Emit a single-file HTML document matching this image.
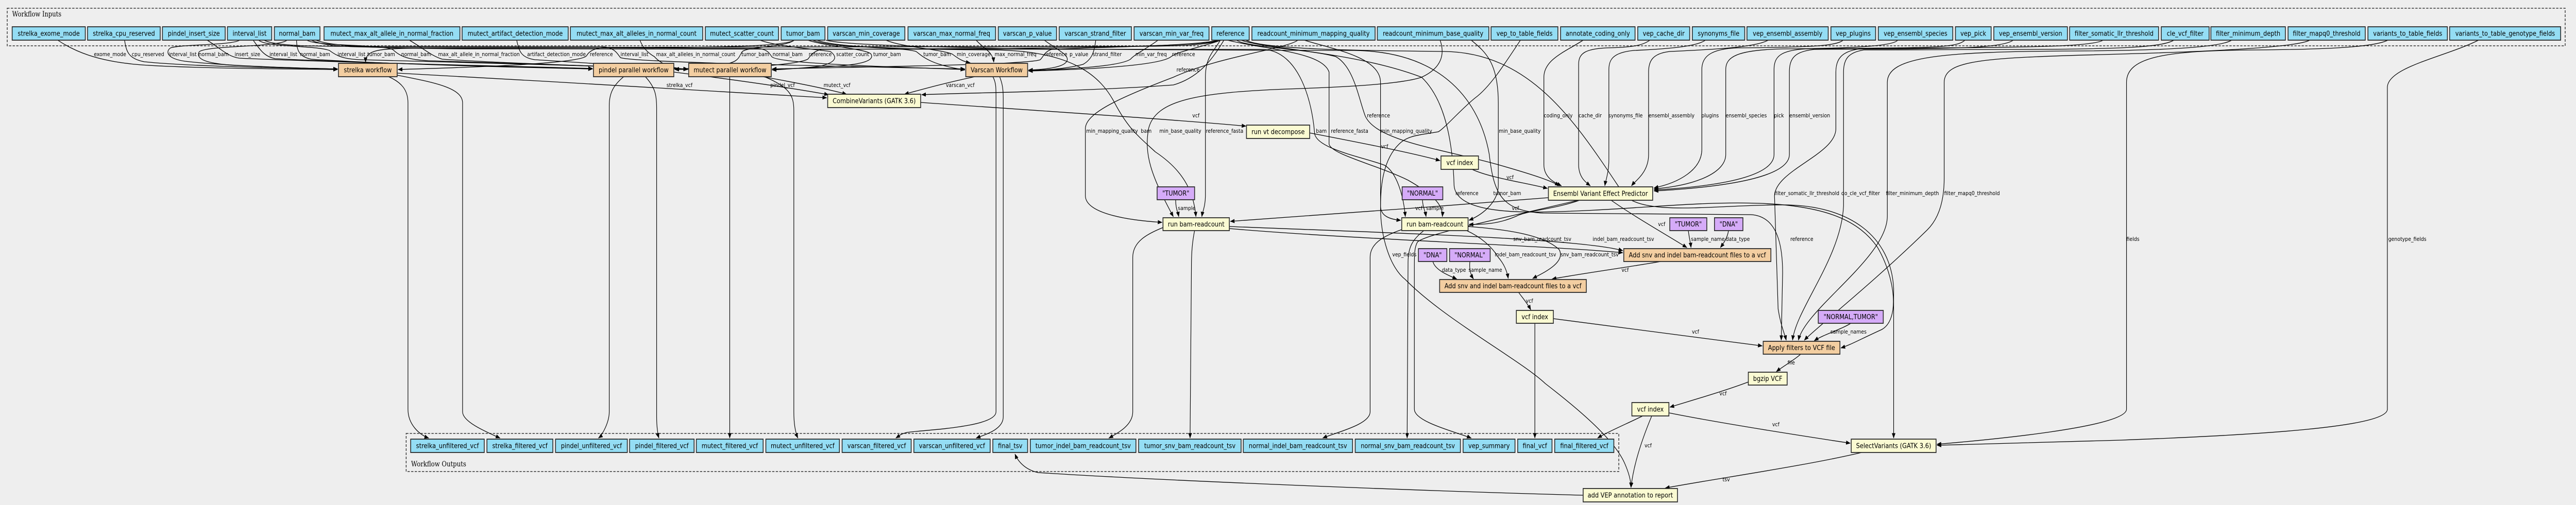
<!DOCTYPE html>
<html><head><meta charset="utf-8"><style>
html,body{margin:0;padding:0;background:#eeeeee;overflow:hidden;width:100%;height:981px;}
svg{display:block;width:100%;height:981px;}
.i{fill:#94ddf4;stroke:#2a2a2a;stroke-width:1.8}
.o{fill:#f3cea1;stroke:#2a2a2a;stroke-width:1.8}
.y{fill:#fafad2;stroke:#2a2a2a;stroke-width:1.8}
.p{fill:#d5abf8;stroke:#2a2a2a;stroke-width:1.8}
.t{font-family:"DejaVu Sans","Liberation Sans",sans-serif;font-size:13px;fill:#000;text-anchor:middle}
.l{font-family:"DejaVu Sans","Liberation Sans",sans-serif;font-size:10.7px;fill:#000}
.c{font-family:"DejaVu Serif","Liberation Serif",serif;font-size:13.5px;fill:#000}
.e{fill:none;stroke:#000;stroke-width:1.3;marker-end:url(#a)}
.box{fill:none;stroke:#333;stroke-width:1.6;stroke-dasharray:5,3}
</style></head><body>
<svg viewBox="0 0 5708 981" preserveAspectRatio="none" xmlns="http://www.w3.org/2000/svg">
<defs><marker id="a" markerWidth="10" markerHeight="8" refX="9.5" refY="4" orient="auto" markerUnits="userSpaceOnUse"><path d="M0,0 L10,4 L0,8 z" fill="#000"/></marker></defs>
<rect x="0" y="0" width="5708" height="981" fill="#eeeeee"/>

<!-- clusters -->
<rect class="box" x="16" y="16" width="5668" height="73"/>
<text class="c" x="27" y="32" textLength="109" lengthAdjust="spacingAndGlyphs">Workflow Inputs</text>
<rect class="box" x="900" y="842" width="2687" height="74"/>
<text class="c" x="911" y="906" textLength="122" lengthAdjust="spacingAndGlyphs">Workflow Outputs</text>

<!-- EDGES -->
<g>
<path class="e" d="M128,78 C165,100 215,118 300,125 S600,134 748,135"/>
<path class="e" d="M276,78 C280,100 284,114 320,120 C420,129 650,133 748,134"/>
<path class="e" d="M531,78 C515,88 400,86 378,93 C366,100 370,114 410,119 C500,128 650,132 748,134"/>
<path class="e" d="M636,78 C620,92 452,88 441,101 C432,118 470,124 520,127 C600,131 700,133 748,134"/>
<path class="e" d="M459,78 C490,95 505,110 530,113 C700,120 1100,128 1313,133"/>
<path class="e" d="M561,78 C575,95 585,110 610,114 C800,122 1100,129 1313,134"/>
<path class="e" d="M657,78 C658,95 660,110 690,115 C850,124 1100,130 1313,134"/>
<path class="e" d="M573,78 C590,92 700,88 730,98 C745,108 760,115 800,116 C1000,120 1300,128 1524,134"/>
<path class="e" d="M680,78 C700,90 840,86 870,96 C885,108 900,116 950,118 C1150,122 1350,130 1524,134"/>
<path class="e" d="M907,78 C940,95 955,108 980,115 C1100,122 1350,130 1524,134"/>
<path class="e" d="M1145,78 C1150,100 1155,112 1185,116 C1300,122 1420,130 1524,134"/>
<path class="e" d="M1418,78 C1425,95 1440,105 1450,110 C1465,125 1490,133 1524,135"/>
<path class="e" d="M1760,78 C1740,90 1600,92 1400,93 L900,94 C830,95 810,100 810,121"/>
<path class="e" d="M2700,78 C2680,88 2600,90 2500,90 L1340,92 C1315,94 1305,100 1300,108 C1290,125 1000,132 882,135"/>
<path class="e" d="M585,78 C610,90 700,90 800,90 L1340,91 C1365,95 1368,105 1375,112 C1400,120 1700,126 2138,134"/>
<path class="e" d="M1760,78 C1740,92 1660,90 1645,100 C1635,112 1640,120 1600,126 C1550,132 1520,134 1495,134"/>
<path class="e" d="M690,78 C720,92 800,92 900,92 L1680,94 C1700,96 1705,103 1710,110 C1720,122 1900,128 2138,135"/>
<path class="e" d="M2700,78 C2680,90 2400,92 2200,94 L1820,96 C1800,100 1795,110 1790,115 C1760,128 1600,134 1495,135"/>
<path class="e" d="M1684,78 C1720,90 1800,95 1840,100 C1855,110 1855,120 1820,128 C1780,133 1740,134 1711,135"/>
<path class="e" d="M1790,78 C1830,90 1920,95 1930,105 C1940,120 1900,128 1800,131 C1760,133 1730,135 1711,136"/>
<path class="e" d="M1800,78 C1850,95 1990,90 2030,100 C2045,110 2060,125 2138,136"/>
<path class="e" d="M1963,78 C2000,92 2080,95 2110,105 C2125,115 2135,120 2150,122"/>
<path class="e" d="M2163,78 C2180,95 2200,100 2202,121"/>
<path class="e" d="M2700,78 C2650,90 2400,92 2330,96 C2315,100 2312,110 2305,116 C2280,126 1900,130 1711,134"/>
<path class="e" d="M2314,78 C2340,95 2365,105 2365,115 C2365,130 2320,135 2279,136"/>
<path class="e" d="M2428,78 C2425,100 2420,115 2400,125 C2360,134 2320,136 2279,137"/>
<path class="e" d="M2566,78 C2540,95 2515,105 2505,115 C2480,130 2350,135 2279,137"/>
<path class="e" d="M2706,78 C2660,92 2610,100 2595,110 C2570,128 2400,135 2279,138"/>
<path class="e" d="M2712,78 C2690,110 2660,150 2600,165 C2400,178 2150,180 2042,184"/>
<path class="e" d="M880,142 C1200,158 1600,176 1832,190"/>
<path class="e" d="M1493,140 C1600,152 1750,170 1836,184"/>
<path class="e" d="M1690,149 C1760,160 1830,172 1876,183"/>
<path class="e" d="M2160,149 C2100,160 2050,172 2004,183"/>
<path class="e" d="M2040,199 C2300,215 2600,232 2761,245"/>
<path class="e" d="M2901,258 C3000,275 3120,295 3191,312"/>
<path class="e" d="M3262,329 C3300,345 3380,355 3429,366"/>
<!-- workflow outputs -->
<path class="e" d="M861,149 C890,160 904,175 904,200 L904,795 C904,825 930,845 950,851"/>
<path class="e" d="M880,146 C960,160 1025,170 1025,200 L1025,800 C1025,820 1080,840 1108,851"/>
<path class="e" d="M1382,149 C1360,165 1350,180 1350,205 L1350,800 C1350,820 1335,845 1326,851"/>
<path class="e" d="M1430,149 C1452,170 1455,185 1455,210 L1455,810 C1455,830 1458,845 1460,851"/>
<path class="e" d="M1617,149 L1617,851"/>
<path class="e" d="M1694,149 C1750,170 1759,185 1759,215 L1759,800 C1759,830 1765,845 1768,851"/>
<path class="e" d="M2200,149 C2207,160 2207,170 2207,190 L2207,800 C2207,830 2050,835 2010,840 C1995,843 1990,848 1985,851"/>
<path class="e" d="M2215,149 C2220,160 2223,170 2223,190 L2223,810 C2223,835 2180,845 2163,851"/>
<!-- readcount 1 -->
<path class="e" d="M2876,78 C2850,95 2700,110 2600,150 C2480,190 2405,220 2405,250 L2405,380 C2405,415 2500,428 2575,432"/>
<path class="e" d="M1810,78 C1850,92 2000,96 2200,97 C2380,98 2440,150 2470,200 C2500,250 2523,265 2560,295 C2620,330 2645,370 2650,421"/>
<path class="e" d="M3191,78 C3200,100 3200,130 3150,150 C3100,165 2950,170 2850,173 C2650,180 2560,195 2545,250 C2535,300 2550,340 2600,421"/>
<path class="e" d="M2704,78 C2690,100 2671,110 2671,150 L2671,380 C2671,400 2665,410 2663,421"/>
<path class="e" d="M2605,388 C2605,405 2610,412 2612,421"/>
<path class="e" d="M3431,384 C3200,400 2900,420 2726,430"/>
<path class="e" d="M2577,442 C2540,455 2510,470 2510,500 L2510,800 C2510,825 2480,840 2457,851"/>
<path class="e" d="M2647,448 C2642,470 2640,490 2640,520 L2637,851"/>
<path class="e" d="M2724,440 C3000,450 3500,462 3596,487"/>
<path class="e" d="M2724,444 C3000,465 3450,478 3596,491"/>
<!-- readcount 2 -->
<path class="e" d="M700,78 C740,93 900,95 1100,95 L2800,96 C2880,100 2908,200 2913,260 C2920,290 3020,305 3068,321 C3095,335 3110,380 3114,421"/>
<path class="e" d="M2720,78 C2800,96 2930,100 2945,140 L2945,280 C2950,300 3050,320 3120,350 C3180,380 3198,400 3196,421"/>
<path class="e" d="M2890,78 C2950,95 3059,110 3059,160 L3059,400 C3059,420 3080,426 3104,428"/>
<path class="e" d="M3260,78 C3290,100 3320,120 3320,200 L3320,360 C3320,390 3290,415 3255,428"/>
<path class="e" d="M3152,388 C3152,400 3158,410 3160,421"/>
<path class="e" d="M3500,389 C3450,405 3380,410 3360,420 C3320,435 3290,436 3255,436"/>
<path class="e" d="M3106,446 C3060,460 3036,475 3036,500 L3036,800 C3036,825 2960,840 2931,851"/>
<path class="e" d="M3155,448 C3130,465 3120,480 3120,510 L3118,851"/>
<path class="e" d="M3250,448 C3280,460 3305,478 3320,500 C3335,515 3340,530 3342,541"/>
<path class="e" d="M3253,440 C3330,445 3420,455 3455,485 C3470,510 3420,530 3396,541"/>
<!-- VEP -->
<path class="e" d="M3497,389 C3300,430 3160,455 3141,470 C3134,480 3134,495 3134,520 L3134,795 C3134,820 3230,840 3260,851"/>
<path class="e" d="M3570,389 C3620,420 3700,460 3738,481"/>
<path class="e" d="M2740,78 C2760,92 2900,95 2960,110 C3000,130 3010,190 3025,225 C3050,275 3200,290 3320,320 C3400,340 3440,352 3455,361"/>
<path class="e" d="M3508,78 C3470,100 3421,115 3421,150 L3421,320 C3421,345 3445,355 3460,361"/>
<path class="e" d="M3656,78 C3640,88 3620,92 3560,93 C3510,95 3498,105 3498,125 L3498,320 C3498,345 3515,355 3524,361"/>
<path class="e" d="M3779,78 C3760,90 3700,95 3620,98 C3575,102 3565,115 3565,135 L3565,310 C3565,335 3558,350 3556,361"/>
<path class="e" d="M3918,78 C3890,92 3800,96 3700,100 C3660,104 3653,120 3653,140 L3653,300 C3653,335 3625,350 3615,361"/>
<path class="e" d="M4084,78 C4070,90 4000,92 3850,93 C3790,95 3771,110 3771,135 L3771,290 C3771,330 3720,355 3665,365"/>
<path class="e" d="M4205,78 C4195,90 4100,94 3950,95 C3850,97 3824,110 3824,135 L3824,300 C3824,335 3760,360 3665,367"/>
<path class="e" d="M4354,78 C4340,90 4300,92 4200,93 L4000,95 C3945,98 3931,110 3931,135 L3931,300 C3931,335 3850,360 3665,369"/>
<path class="e" d="M4461,78 C4440,92 4350,94 4200,95 L4020,96 C3978,100 3965,112 3965,140 L3965,300 C3965,340 3850,362 3665,371"/>
<!-- add snv -->
<path class="e" d="M3741,448 C3743,462 3746,472 3747,481"/>
<path class="e" d="M3830,448 C3828,462 3818,474 3812,481"/>
<path class="e" d="M3680,508 C3600,520 3500,532 3439,542"/>
<path class="e" d="M3175,508 C3180,525 3210,535 3228,542"/>
<path class="e" d="M3257,508 C3255,525 3260,535 3265,542"/>
<path class="e" d="M3365,568 C3375,580 3385,590 3392,602"/>
<path class="e" d="M3401,628 L3401,851"/>
<path class="e" d="M3442,619 L3905,672"/>
<path class="e" d="M4101,628 C4080,640 4040,650 4020,662"/>
<path class="e" d="M3990,688 C3975,700 3950,712 3936,722"/>
<path class="e" d="M3874,742 C3820,760 3740,780 3700,791"/>
<path class="e" d="M3640,808 C3600,825 3560,840 3540,851"/>
<path class="e" d="M3698,802 C3800,820 3980,845 4100,861"/>
<path class="e" d="M3660,808 C3640,850 3620,900 3614,947"/>
<path class="e" d="M4125,879 C4000,905 3800,930 3690,948"/>
<path class="e" d="M3369,78 C3330,130 3300,170 3269,190 C3240,210 3200,250 3187,256 C3150,262 3120,262 3100,280 C3065,310 3059,360 3059,402 C3059,460 3080,520 3114,543 C3200,620 3370,700 3424,745 C3520,810 3580,860 3600,900 C3610,920 3614,935 3614,947"/>
<path class="e" d="M3508,962 C3200,955 2600,935 2300,918 C2270,912 2255,895 2249,882"/>
<!-- filters -->
<path class="e" d="M4660,78 C4640,90 4500,92 4300,93 L4120,95 C4080,100 4068,115 4068,140 L4068,250 C4068,300 3935,330 3932,380 L3940,600 C3945,630 3955,650 3958,661"/>
<path class="e" d="M4817,78 C4790,92 4700,95 4500,96 L4130,97 C4095,102 4085,115 4085,140 L4085,400 C4080,500 3980,600 3972,661"/>
<path class="e" d="M4945,78 C4920,92 4800,98 4600,99 C4300,100 4182,110 4182,160 L4182,420 C4182,500 4000,600 3985,661"/>
<path class="e" d="M5118,78 C5090,92 4900,100 4700,105 C4400,112 4308,115 4308,160 L4308,346 C4308,400 4290,430 4270,447 C4150,550 4020,640 3998,661"/>
<path class="e" d="M2750,78 C2800,95 3000,100 3150,150 C3210,200 3220,300 3222,360 C3225,400 3300,412 3400,412 C3600,410 3750,390 3900,395 C4050,400 4120,430 4160,480 C4200,540 4210,620 4170,640 C4120,660 4100,670 4079,676"/>
<path class="e" d="M1830,78 C1900,95 2500,97 3000,98 C3200,100 3280,200 3300,300 C3310,380 3330,410 3420,414 L3880,417 C3935,420 3950,470 3950,530 L3947,661"/>
<path class="e" d="M2760,78 C2800,96 3000,98 3200,100 C3400,102 3500,250 3600,380 C3650,420 3800,398 3950,398 C4100,398 4190,460 4196,560 L4196,851"/>
<path class="e" d="M5291,78 C5260,92 5150,96 5000,97 C4800,98 4712,110 4712,160 L4712,795 C4712,830 4400,855 4292,863"/>
<path class="e" d="M5492,78 C5420,110 5290,130 5290,170 L5290,795 C5290,830 5000,845 4700,855 C4500,861 4350,864 4292,865"/>
</g>

<!-- EDGE LABELS -->
<g class="l">
<text x="208" y="109">exome_mode</text>
<text x="292" y="109">cpu_reserved</text>
<text x="374" y="109">interval_list</text>
<text x="440" y="109">normal_bam</text>
<text x="520" y="109">insert_size</text>
<text x="597" y="109">interval_list</text>
<text x="665" y="109">normal_bam</text>
<text x="748" y="109">interval_list</text>
<text x="814" y="109">tumor_bam</text>
<text x="889" y="109">normal_bam</text>
<text x="971" y="109">max_alt_allele_in_normal_fraction</text>
<text x="1168" y="109">artifact_detection_mode</text>
<text x="1307" y="109">reference</text>
<text x="1375" y="109">interval_list</text>
<text x="1454" y="109">max_alt_alleles_in_normal_count</text>
<text x="1643" y="109">tumor_bam</text>
<text x="1712" y="109">normal_bam</text>
<text x="1792" y="109">reference</text>
<text x="1853" y="109">scatter_count</text>
<text x="1935" y="109">tumor_bam</text>
<text x="2046" y="109">tumor_bam</text>
<text x="2120" y="109">min_coverage</text>
<text x="2204" y="109">max_normal_freq</text>
<text x="2314" y="109">reference</text>
<text x="2370" y="109">p_value</text>
<text x="2421" y="109">strand_filter</text>
<text x="2516" y="109">min_var_freq</text>
<text x="2597" y="109">reference</text>
<text x="2607" y="139">reference</text>
<text x="1477" y="169">strelka_vcf</text>
<text x="1707" y="169">pindel_vcf</text>
<text x="1825" y="169">mutect_vcf</text>
<text x="2096" y="169">varscan_vcf</text>
<text x="2642" y="228">vcf</text>
<text x="3029" y="228">reference</text>
<text x="3421" y="228">coding_only</text>
<text x="3498" y="228">cache_dir</text>
<text x="3564" y="228">synonyms_file</text>
<text x="3653" y="228">ensembl_assembly</text>
<text x="3770" y="228">plugins</text>
<text x="3824" y="228">ensembl_species</text>
<text x="3931" y="228">pick</text>
<text x="3965" y="228">ensembl_version</text>
<text x="2407" y="258">min_mapping_quality</text>
<text x="2528" y="258">bam</text>
<text x="2569" y="258">min_base_quality</text>
<text x="2672" y="258">reference_fasta</text>
<text x="2916" y="258">bam</text>
<text x="2949" y="258">reference_fasta</text>
<text x="3059" y="258">min_mapping_quality</text>
<text x="3321" y="258">min_base_quality</text>
<text x="3060" y="288">vcf</text>
<text x="3338" y="348">vcf</text>
<text x="3225" y="379">reference</text>
<text x="3309" y="379">tumor_bam</text>
<text x="3932" y="379">filter_somatic_llr_threshold</text>
<text x="4080" y="379">do_cle_vcf_filter</text>
<text x="4179" y="379">filter_minimum_depth</text>
<text x="4308" y="379">filter_mapq0_threshold</text>
<text x="2610" y="408">sample</text>
<text x="3136" y="408">vcf</text>
<text x="3160" y="408">sample</text>
<text x="3350" y="408">vcf</text>
<text x="3674" y="439">vcf</text>
<text x="3353" y="468">snv_bam_readcount_tsv</text>
<text x="3529" y="468">indel_bam_readcount_tsv</text>
<text x="3747" y="468">sample_name</text>
<text x="3824" y="468">data_type</text>
<text x="3967" y="468">reference</text>
<text x="4712" y="468">fields</text>
<text x="5292" y="468">genotype_fields</text>
<text x="3085" y="498">vep_fields</text>
<text x="3312" y="498">indel_bam_readcount_tsv</text>
<text x="3458" y="498">snv_bam_readcount_tsv</text>
<text x="3195" y="528">data_type</text>
<text x="3254" y="528">sample_name</text>
<text x="3593" y="528">vcf</text>
<text x="3381" y="588">vcf</text>
<text x="3749" y="648">vcf</text>
<text x="4056" y="648">sample_names</text>
<text x="3961" y="708">file</text>
<text x="3810" y="768">vcf</text>
<text x="3927" y="828">vcf</text>
<text x="3644" y="869">vcf</text>
<text x="3817" y="935">tsv</text>
</g>

<!-- INPUT NODES -->
<g>
<rect class="i" x="27" y="52" width="162" height="26"/><text class="t" x="108" y="69.5">strelka_exome_mode</text>
<rect class="i" x="194" y="52" width="161" height="26"/><text class="t" x="274.5" y="69.5">strelka_cpu_reserved</text>
<rect class="i" x="360" y="52" width="139" height="26"/><text class="t" x="429.5" y="69.5">pindel_insert_size</text>
<rect class="i" x="504" y="52" width="98" height="26"/><text class="t" x="553" y="69.5">interval_list</text>
<rect class="i" x="608" y="52" width="101" height="26"/><text class="t" x="658.5" y="69.5">normal_bam</text>
<rect class="i" x="718" y="52" width="301" height="26"/><text class="t" x="868.5" y="69.5">mutect_max_alt_allele_in_normal_fraction</text>
<rect class="i" x="1024" y="52" width="235" height="26"/><text class="t" x="1141.5" y="69.5">mutect_artifact_detection_mode</text>
<rect class="i" x="1264" y="52" width="293" height="26"/><text class="t" x="1410.5" y="69.5">mutect_max_alt_alleles_in_normal_count</text>
<rect class="i" x="1563" y="52" width="162" height="26"/><text class="t" x="1644" y="69.5">mutect_scatter_count</text>
<rect class="i" x="1731" y="52" width="97" height="26"/><text class="t" x="1779.5" y="69.5">tumor_bam</text>
<rect class="i" x="1834" y="52" width="171" height="26"/><text class="t" x="1919.5" y="69.5">varscan_min_coverage</text>
<rect class="i" x="2012" y="52" width="194" height="26"/><text class="t" x="2109" y="69.5">varscan_max_normal_freq</text>
<rect class="i" x="2212" y="52" width="129" height="26"/><text class="t" x="2276.5" y="69.5">varscan_p_value</text>
<rect class="i" x="2347" y="52" width="160" height="26"/><text class="t" x="2427" y="69.5">varscan_strand_filter</text>
<rect class="i" x="2513" y="52" width="166" height="26"/><text class="t" x="2596" y="69.5">varscan_min_var_freq</text>
<rect class="i" x="2685" y="52" width="83" height="26"/><text class="t" x="2726.5" y="69.5">reference</text>
<rect class="i" x="2774" y="52" width="273" height="26"/><text class="t" x="2910.5" y="69.5">readcount_minimum_mapping_quality</text>
<rect class="i" x="3052" y="52" width="247" height="26"/><text class="t" x="3175.5" y="69.5">readcount_minimum_base_quality</text>
<rect class="i" x="3304" y="52" width="148" height="26"/><text class="t" x="3378" y="69.5">vep_to_table_fields</text>
<rect class="i" x="3458" y="52" width="165" height="26"/><text class="t" x="3540.5" y="69.5">annotate_coding_only</text>
<rect class="i" x="3629" y="52" width="115" height="26"/><text class="t" x="3686.5" y="69.5">vep_cache_dir</text>
<rect class="i" x="3750" y="52" width="116" height="26"/><text class="t" x="3808" y="69.5">synonyms_file</text>
<rect class="i" x="3871" y="52" width="180" height="26"/><text class="t" x="3961" y="69.5">vep_ensembl_assembly</text>
<rect class="i" x="4057" y="52" width="99" height="26"/><text class="t" x="4106.5" y="69.5">vep_plugins</text>
<rect class="i" x="4162" y="52" width="165" height="26"/><text class="t" x="4244.5" y="69.5">vep_ensembl_species</text>
<rect class="i" x="4333" y="52" width="79" height="26"/><text class="t" x="4372.5" y="69.5">vep_pick</text>
<rect class="i" x="4418" y="52" width="163" height="26"/><text class="t" x="4499.5" y="69.5">vep_ensembl_version</text>
<rect class="i" x="4586" y="52" width="197" height="26"/><text class="t" x="4684.5" y="69.5">filter_somatic_llr_threshold</text>
<rect class="i" x="4789" y="52" width="106" height="26"/><text class="t" x="4842" y="69.5">cle_vcf_filter</text>
<rect class="i" x="4899" y="52" width="165" height="26"/><text class="t" x="4981.5" y="69.5">filter_minimum_depth</text>
<rect class="i" x="5070" y="52" width="171" height="26"/><text class="t" x="5155.5" y="69.5">filter_mapq0_threshold</text>
<rect class="i" x="5247" y="52" width="176" height="26"/><text class="t" x="5335" y="69.5">variants_to_table_fields</text>
<rect class="i" x="5428" y="52" width="246" height="26"/><text class="t" x="5551" y="69.5">variants_to_table_genotype_fields</text>
</g>

<!-- STEP NODES -->
<g>
<rect class="o" x="750" y="123" width="130" height="26"/><text class="t" x="815" y="140.5">strelka workflow</text>
<rect class="o" x="1315" y="123" width="178" height="26"/><text class="t" x="1404" y="140.5">pindel parallel workflow</text>
<rect class="o" x="1526" y="123" width="183" height="26"/><text class="t" x="1617.5" y="140.5">mutect parallel workflow</text>
<rect class="o" x="2140" y="123" width="137" height="26"/><text class="t" x="2208.5" y="140.5">Varscan Workflow</text>
<rect class="y" x="1834" y="183" width="206" height="26"/><text class="t" x="1937" y="200.5">CombineVariants (GATK 3.6)</text>
<rect class="y" x="2762" y="243" width="140" height="26"/><text class="t" x="2832" y="260.5">run vt decompose</text>
<rect class="y" x="3193" y="303" width="83" height="26"/><text class="t" x="3234.5" y="320.5">vcf index</text>
<rect class="y" x="3431" y="363" width="231" height="26"/><text class="t" x="3546.5" y="380.5">Ensembl Variant Effect Predictor</text>
<rect class="p" x="2564" y="363" width="83" height="25"/><text class="t" x="2605.5" y="380">"TUMOR"</text>
<rect class="p" x="3107" y="363" width="90" height="25"/><text class="t" x="3152" y="380">"NORMAL"</text>
<rect class="y" x="2577" y="423" width="147" height="25"/><text class="t" x="2650.5" y="440">run bam-readcount</text>
<rect class="y" x="3106" y="423" width="147" height="25"/><text class="t" x="3179.5" y="440">run bam-readcount</text>
<rect class="p" x="3700" y="423" width="82" height="25"/><text class="t" x="3741" y="440">"TUMOR"</text>
<rect class="p" x="3799" y="423" width="63" height="25"/><text class="t" x="3830.5" y="440">"DNA"</text>
<rect class="o" x="3598" y="483" width="326" height="25"/><text class="t" x="3761" y="500">Add snv and indel bam-readcount files to a vcf</text>
<rect class="p" x="3143" y="483" width="63" height="25"/><text class="t" x="3174.5" y="500">"DNA"</text>
<rect class="p" x="3212" y="483" width="90" height="25"/><text class="t" x="3257" y="500">"NORMAL"</text>
<rect class="o" x="3190" y="543" width="325" height="25"/><text class="t" x="3352.5" y="560">Add snv and indel bam-readcount files to a vcf</text>
<rect class="y" x="3360" y="603" width="82" height="25"/><text class="t" x="3401" y="620">vcf index</text>
<rect class="p" x="4029" y="603" width="144" height="25"/><text class="t" x="4101" y="620">"NORMAL,TUMOR"</text>
<rect class="o" x="3907" y="663" width="170" height="25"/><text class="t" x="3992" y="680">Apply filters to VCF file</text>
<rect class="y" x="3874" y="723" width="86" height="25"/><text class="t" x="3917" y="740">bgzip VCF</text>
<rect class="y" x="3616" y="782" width="82" height="26"/><text class="t" x="3657" y="799.5">vcf index</text>
<rect class="y" x="4102" y="853" width="188" height="26"/><text class="t" x="4196" y="870.5">SelectVariants (GATK 3.6)</text>
<rect class="y" x="3508" y="949" width="209" height="26"/><text class="t" x="3612.5" y="966.5">add VEP annotation to report</text>
</g>

<!-- OUTPUT NODES -->
<g>
<rect class="i" x="910" y="853" width="163" height="26"/><text class="t" x="991.5" y="870.5">strelka_unfiltered_vcf</text>
<rect class="i" x="1079" y="853" width="146" height="26"/><text class="t" x="1152" y="870.5">strelka_filtered_vcf</text>
<rect class="i" x="1231" y="853" width="159" height="26"/><text class="t" x="1310.5" y="870.5">pindel_unfiltered_vcf</text>
<rect class="i" x="1395" y="853" width="143" height="26"/><text class="t" x="1466.5" y="870.5">pindel_filtered_vcf</text>
<rect class="i" x="1543" y="853" width="148" height="26"/><text class="t" x="1617" y="870.5">mutect_filtered_vcf</text>
<rect class="i" x="1697" y="853" width="163" height="26"/><text class="t" x="1778.5" y="870.5">mutect_unfiltered_vcf</text>
<rect class="i" x="1866" y="853" width="153" height="26"/><text class="t" x="1942.5" y="870.5">varscan_filtered_vcf</text>
<rect class="i" x="2025" y="853" width="169" height="26"/><text class="t" x="2109.5" y="870.5">varscan_unfiltered_vcf</text>
<rect class="i" x="2200" y="853" width="77" height="26"/><text class="t" x="2238.5" y="870.5">final_tsv</text>
<rect class="i" x="2283" y="853" width="234" height="26"/><text class="t" x="2400" y="870.5">tumor_indel_bam_readcount_tsv</text>
<rect class="i" x="2523" y="853" width="227" height="26"/><text class="t" x="2636.5" y="870.5">tumor_snv_bam_readcount_tsv</text>
<rect class="i" x="2755" y="853" width="242" height="26"/><text class="t" x="2876" y="870.5">normal_indel_bam_readcount_tsv</text>
<rect class="i" x="3003" y="853" width="233" height="26"/><text class="t" x="3119.5" y="870.5">normal_snv_bam_readcount_tsv</text>
<rect class="i" x="3242" y="853" width="115" height="26"/><text class="t" x="3299.5" y="870.5">vep_summary</text>
<rect class="i" x="3363" y="853" width="76" height="26"/><text class="t" x="3401" y="870.5">final_vcf</text>
<rect class="i" x="3445" y="853" width="131" height="26"/><text class="t" x="3510.5" y="870.5">final_filtered_vcf</text>
</g>
</svg>
</body></html>
